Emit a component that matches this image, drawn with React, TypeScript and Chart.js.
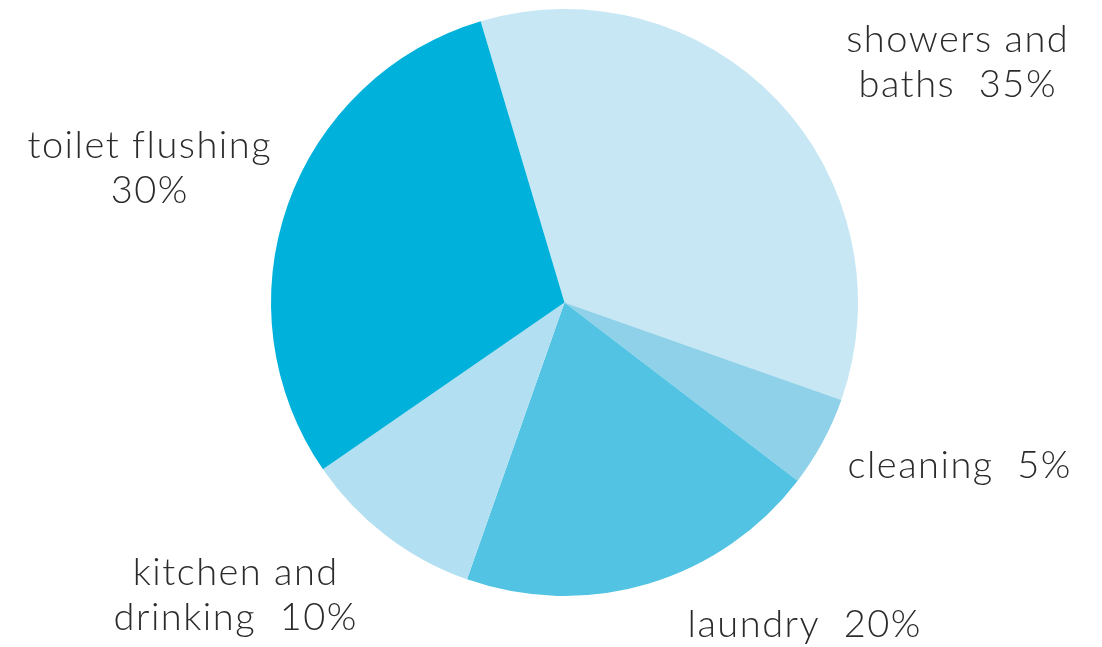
import React, { useEffect, useRef } from "react";
import { Chart, registerables } from "chart.js";

Chart.register(...registerables);

const categories = ["showers and baths", "cleaning", "laundry", "kitchen and drinking", "toilet flushing"];
const values = [35, 5, 20, 10, 30];
const colors = ["#c8e7f4", "#8ed1e9", "#52c3e2", "#b2dff1", "#00b2db"];
const labelLines = [
  ["showers and", "baths  35%"],
  ["cleaning  5%"],
  ["laundry  20%"],
  ["kitchen and", "drinking  10%"],
  ["toilet flushing", "30%"],
];

// label anchor positions (center x, first baseline y)
const labelPos = [
  [957, 52],
  [959, 478],
  [804, 637],
  [235, 585],
  [149, 158],
];

const labelPlugin = {
  id: "outerLabels",
  afterDraw(chart: any) {
    const ctx = chart.ctx;
    ctx.save();
    ctx.fillStyle = "#2b2b2b";
    ctx.font = "300 38px Lato, 'Open Sans', sans-serif";
    try {
      (ctx as any).letterSpacing = "1.5px";
    } catch (e) {}
    ctx.textAlign = "center";
    ctx.textBaseline = "alphabetic";
    labelLines.forEach((lines, i) => {
      const [x, y] = labelPos[i];
      lines.forEach((t, j) => {
        ctx.fillText(t, x + 0.75, y + j * 45);
      });
    });
    ctx.restore();
  },
};

export default function App() {
  const ref = useRef<HTMLCanvasElement>(null);
  useEffect(() => {
    const chart = new Chart(ref.current!, {
      type: "pie",
      data: {
        labels: categories,
        datasets: [
          {
            data: values,
            backgroundColor: colors,
            borderWidth: 0,
          },
        ],
      },
      options: {
        animation: false,
        responsive: false,
        rotation: -16.6,
        layout: { padding: { left: 271, right: 244, top: 9, bottom: 51 } },
        plugins: {
          legend: { display: false },
          tooltip: { enabled: false },
        },
      },
      plugins: [labelPlugin],
    });
    return () => chart.destroy();
  }, []);
  return (
    <div style={{ position: "fixed", left: 0, top: 0, width: 1102, height: 647, background: "#fff" }}>
      <canvas ref={ref} width={1102} height={647} style={{ width: 1102, height: 647 }} />
    </div>
  );
}
